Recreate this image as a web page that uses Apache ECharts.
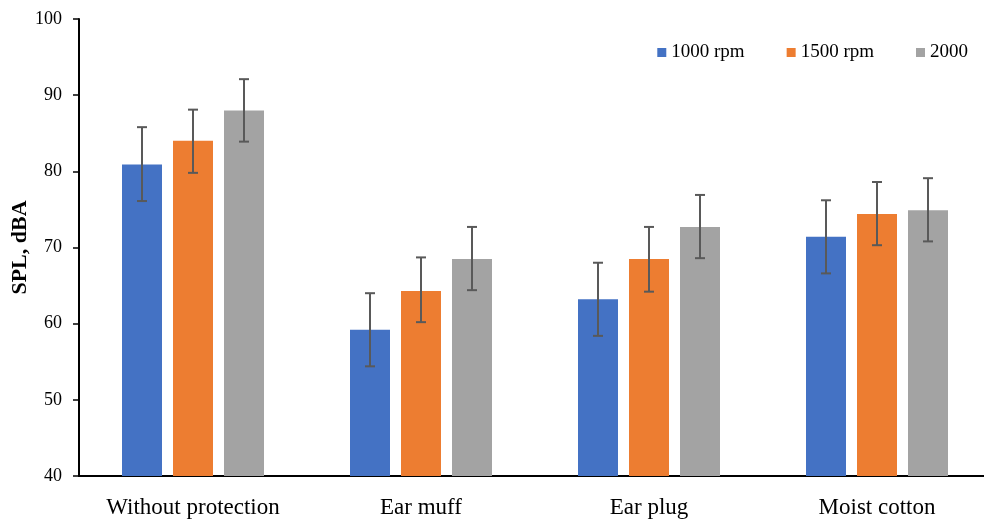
<!DOCTYPE html>
<html>
<head>
<meta charset="utf-8">
<script src="https://cdn.jsdelivr.net/npm/echarts@6/dist/echarts.min.js"></script>
<style>html,body{margin:0;padding:0;background:#fff;overflow:hidden;}#chart{width:984px;height:521px;}</style>
</head>
<body>
<div id="chart"></div>
<script>
var categories = ['Without protection', 'Ear muff', 'Ear plug', 'Moist cotton'];
var seriesNames = ['1000 rpm', '1500 rpm', '2000'];
var rpm1000 = [80.9, 59.2, 63.2, 71.4];
var rpm1500 = [84.0, 64.3, 68.5, 74.4];
var rpm2000 = [88.0, 68.5, 72.7, 74.9];
var err1000Low = [76.1, 54.4, 58.4, 66.6];
var err1000High = [85.8, 64.0, 68.0, 76.2];
var err1500Low = [79.8, 60.2, 64.2, 70.3];
var err1500High = [88.1, 68.7, 72.7, 78.6];
var err2000Low = [83.9, 64.4, 68.6, 70.8];
var err2000High = [92.1, 72.7, 76.9, 79.1];
var yTicks = [40, 50, 60, 70, 80, 90, 100];

var colors = ['#4472C4', '#ED7D31', '#A3A3A3'];
var values = [rpm1000, rpm1500, rpm2000];
var lows = [err1000Low, err1500Low, err2000Low];
var highs = [err1000High, err1500High, err2000High];
var BAR_W = 40, BAR_GAP = 11;
var font = '"Liberation Serif", "Times New Roman", serif';

var series = [];
values.forEach(function (v, k) {
  series.push({
    name: seriesNames[k],
    type: 'bar',
    data: v,
    barWidth: BAR_W,
    barGap: (BAR_GAP / BAR_W * 100) + '%',
    itemStyle: { color: colors[k] },
    z: 2
  });
});
values.forEach(function (v, k) {
  series.push({
    name: 'err' + k,
    type: 'custom',
    z: 5,
    data: categories.map(function (c, i) { return [i, lows[k][i], highs[k][i]]; }),
    encode: { x: 0, y: [1, 2] },
    renderItem: function (params, api) {
      var lo = api.coord([api.value(0), api.value(1)]);
      var hi = api.coord([api.value(0), api.value(2)]);
      var off = (k - 1) * (BAR_W + BAR_GAP);
      var x = lo[0] + off;
      var hw = 5;
      var st = { stroke: '#595959', lineWidth: 2 };
      return {
        type: 'group',
        children: [
          { type: 'line', shape: { x1: x, y1: lo[1], x2: x, y2: hi[1] }, style: st },
          { type: 'line', shape: { x1: x - hw, y1: lo[1], x2: x + hw, y2: lo[1] }, style: st },
          { type: 'line', shape: { x1: x - hw, y1: hi[1], x2: x + hw, y2: hi[1] }, style: st }
        ]
      };
    }
  });
});

var chart = echarts.init(document.getElementById('chart'));
chart.setOption({
  animation: false,
  backgroundColor: '#fff',
  textStyle: { fontFamily: font },
  grid: { left: 79, width: 912, top: 19, height: 457, containLabel: false, outerBoundsMode: 'none' },
  legend: {
    data: seriesNames,
    right: 11,
    top: 38,
    icon: 'rect',
    itemWidth: 9,
    itemHeight: 9,
    itemGap: 42,
    textStyle: { fontFamily: font, fontSize: 19, color: '#000' }
  },
  xAxis: {
    type: 'category',
    data: categories,
    axisLine: { lineStyle: { color: '#000', width: 2 } },
    axisTick: { show: false },
    axisLabel: { interval: 0, fontFamily: font, fontSize: 23, color: '#000', margin: 20 }
  },
  yAxis: {
    type: 'value',
    min: yTicks[0],
    max: yTicks[yTicks.length - 1],
    interval: 10,
    name: 'SPL, dBA',
    nameLocation: 'middle',
    nameGap: 48,
    nameMoveOverlap: false,
    nameTextStyle: { fontFamily: font, fontSize: 22, fontWeight: 'bold', color: '#000' },
    splitLine: { show: false },
    axisLine: { show: true, lineStyle: { color: '#000', width: 2 } },
    axisTick: { show: true, length: 6, lineStyle: { color: '#000', width: 1.5 } },
    axisLabel: { fontFamily: font, fontSize: 18, color: '#000', margin: 17 }
  },
  series: series
});
</script>
</body>
</html>
